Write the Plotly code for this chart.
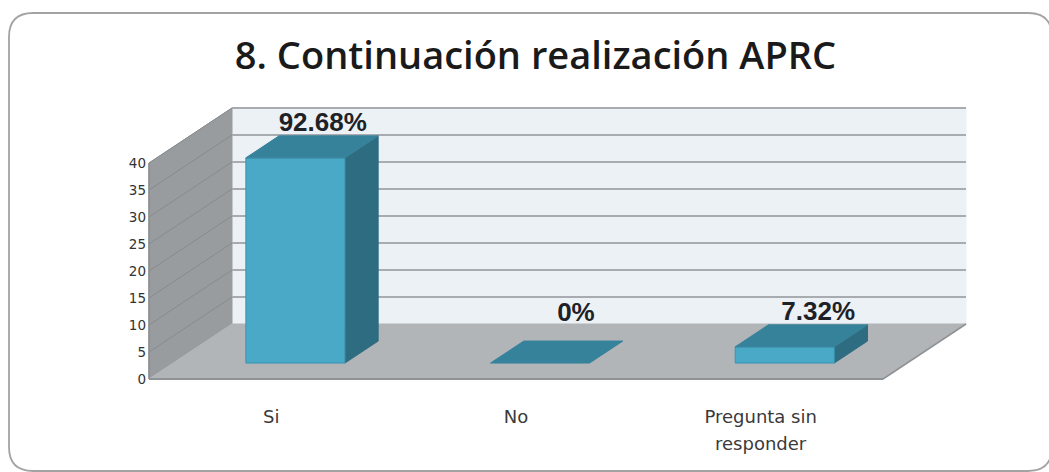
import plotly.graph_objects as go

# ---- data ----
CATEGORIES = ["Si", "No", "Pregunta sin responder"]
CATEGORY_LINES = [["Si"], ["No"], ["Pregunta sin", "responder"]]
VALUES = [38, 0, 3]
PERCENT_LABELS = ["92.68%", "0%", "7.32%"]
Y_TICKS = [0, 5, 10, 15, 20, 25, 30, 35, 40]
TITLE = "8. Continuación realización APRC"

# ---- layout constants (pixels of the 1049x472 page) ----
W, H = 1049, 472
X0_PX, Y0_PX = 149, 379          # front-left floor corner
CAT_PX = 244.67                  # width of one category
UNIT_PX = 5.4                    # height of one value unit
DEPTH_X = 83 / CAT_PX            # oblique depth, in data units
DEPTH_Y = 55 / UNIT_PX
BAR_W = 0.405
BAR_D0, BAR_D1 = 0.29, 0.69
LABEL_NUDGE = [(0.21, 9.2), (0.245, 12.0), (0.235, 9.1)]

C_FRONT, C_TOP, C_SIDE = "#4AA9C7", "#37829B", "#2E6C81"
C_FLOOR, C_LEFT, C_BACK = "#B2B5B8", "#989C9E", "#ECF1F6"
C_GRID = "#A8ACB0"


def proj(x, v, d=0.0):
    return x + d * DEPTH_X, v + d * DEPTH_Y


fig = go.Figure()


def poly(points, color, line=None):
    xs = [p[0] for p in points] + [points[0][0]]
    ys = [p[1] for p in points] + [points[0][1]]
    fig.add_trace(go.Scatter(
        x=xs, y=ys, mode="lines", fill="toself", fillcolor=color,
        line=dict(color=line or color, width=1), hoverinfo="skip", showlegend=False))


def seg(a, b, color=C_GRID, width=2):
    fig.add_trace(go.Scatter(
        x=[a[0], b[0]], y=[a[1], b[1]], mode="lines",
        line=dict(color=color, width=width), hoverinfo="skip", showlegend=False))


n = len(CATEGORIES)
top = max(Y_TICKS)

# walls and floor
poly([proj(0, 0, 1), proj(n, 0, 1), proj(n, top, 1), proj(0, top, 1)], C_BACK)
poly([proj(0, 0, 0), proj(0, 0, 1), proj(0, top, 1), proj(0, top, 0)], C_LEFT)
poly([proj(0, 0, 0), proj(n, 0, 0), proj(n, 0, 1), proj(0, 0, 1)], C_FLOOR)

for t in Y_TICKS[1:]:
    seg(proj(0, t, 1), proj(n, t, 1))
    seg(proj(0, t, 0), proj(0, t, 1), "#868B8E", 1)
seg(proj(0, 0, 0), proj(0, top, 0), "#8A8E91", 1.5)
seg(proj(0, 0, 0), proj(n, 0, 0), "#8F9396", 2)
seg(proj(n, 0, 0), proj(n, 0, 1), "#8F9396", 1.5)

# bars
for i, v in enumerate(VALUES):
    cx = i + 0.5
    l, r = cx - BAR_W / 2, cx + BAR_W / 2
    if v > 0:
        poly([proj(r, 0, BAR_D0), proj(r, 0, BAR_D1), proj(r, v, BAR_D1), proj(r, v, BAR_D0)], C_SIDE)
        poly([proj(l, 0, BAR_D0), proj(r, 0, BAR_D0), proj(r, v, BAR_D0), proj(l, v, BAR_D0)], C_FRONT, "#3A93AE")
    poly([proj(l, v, BAR_D0), proj(r, v, BAR_D0), proj(r, v, BAR_D1), proj(l, v, BAR_D1)], C_TOP)

# value labels
fig.add_trace(go.Scatter(
    x=[i + 0.5 + LABEL_NUDGE[i][0] for i in range(n)],
    y=[VALUES[i] + LABEL_NUDGE[i][1] for i in range(n)],
    mode="text", text=PERCENT_LABELS, textposition="middle center",
    textfont=dict(family="Liberation Sans", size=26, color="#1E2226", weight="bold"),
    hoverinfo="skip", showlegend=False))

# second line of the wrapped category label
annotations = []
for i, lines in enumerate(CATEGORY_LINES):
    for line_no, text in enumerate(lines[1:], start=1):
        annotations.append(dict(
            x=i + 0.5, y=(Y0_PX - (416 + 27 * line_no)) / UNIT_PX, text=text, showarrow=False,
            xanchor="center", yanchor="middle",
            font=dict(family="DejaVu Sans", size=18, color="#3A3A3A")))

# rounded frame, in page fractions
L, R, T, B, RAD = 9, 1052, 13, 471, 24
def fx(p): return f"{p / W:.5f}"
def fy(p): return f"{1 - p / H:.5f}"
frame = (f"M {fx(L)} {fy(T + RAD)} Q {fx(L)} {fy(T)} {fx(L + RAD)} {fy(T)} "
         f"L {fx(R - RAD)} {fy(T)} Q {fx(R)} {fy(T)} {fx(R)} {fy(T + RAD)} "
         f"L {fx(R)} {fy(B - RAD)} Q {fx(R)} {fy(B)} {fx(R - RAD)} {fy(B)} "
         f"L {fx(L + RAD)} {fy(B)} Q {fx(L)} {fy(B)} {fx(L)} {fy(B - RAD)} Z")

fig.update_layout(
    width=W, height=H, margin=dict(l=0, r=0, t=0, b=0),
    paper_bgcolor="white", plot_bgcolor="rgba(0,0,0,0)", showlegend=False,
    title=dict(text=TITLE, x=535.5 / W, y=1 - 56 / H, xanchor="center", yanchor="middle",
               font=dict(family="Open Sans", size=38, color="#1A1A1A", weight=600)),
    xaxis=dict(
        range=[-X0_PX / CAT_PX, (W - X0_PX) / CAT_PX], tickmode="array",
        tickvals=[i + 0.5 for i in range(n)], ticktext=[c[0] for c in CATEGORY_LINES],
        showgrid=False, zeroline=False, showline=False, ticks="",
        anchor="free", position=1 - Y0_PX / H, ticklabelstandoff=25,
        tickfont=dict(family="DejaVu Sans", size=18, color="#3A3A3A")),
    yaxis=dict(
        range=[(Y0_PX - H) / UNIT_PX, Y0_PX / UNIT_PX], tickmode="array",
        tickvals=Y_TICKS, ticktext=[str(t) for t in Y_TICKS],
        showgrid=False, zeroline=False, showline=False, ticks="",
        anchor="free", position=X0_PX / W, ticklabelstandoff=3,
        tickfont=dict(family="DejaVu Sans", size=13.5, color="#333333")),
    shapes=[dict(type="path", xref="paper", yref="paper", path=frame,
                 line=dict(color="#A3A3A3", width=1.8), layer="below")],
    annotations=annotations,
)

fig.write_html("out.html", config=dict(displayModeBar=False),
               post_script="document.body.style.margin='0';document.body.style.overflow='hidden';")
